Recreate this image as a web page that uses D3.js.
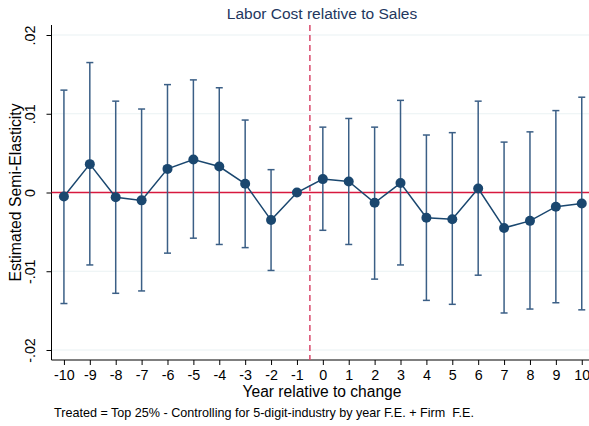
<!DOCTYPE html>
<html><head><meta charset="utf-8">
<script src="https://cdn.jsdelivr.net/npm/d3@7"></script>
<style>body{margin:0;background:#fff}svg{display:block;font-family:Arial,"Liberation Sans",sans-serif}</style>
</head><body><svg id="c" width="589" height="426"></svg>
<script>
const years = [-10,-9,-8,-7,-6,-5,-4,-3,-2,-1,0,1,2,3,4,5,6,7,8,9,10];
const estimate = [-0.0005,0.0036,-0.0006,-0.0010,0.0030,0.0042,0.0033,0.0011,-0.0035,0,0.0017,0.0014,-0.0013,0.0012,-0.0032,-0.0034,0.0005,-0.0045,-0.0036,-0.0018,-0.0014];
const ciUpper = [0.0130,0.0165,0.0116,0.0106,0.0137,0.0143,0.0133,0.0092,0.0029,null,0.0083,0.0094,0.0083,0.0117,0.0073,0.0076,0.0116,0.0064,0.0077,0.0104,0.0121];
const ciLower = [-0.0141,-0.0092,-0.0128,-0.0125,-0.0077,-0.0058,-0.0066,-0.0070,-0.0099,null,-0.0048,-0.0066,-0.0110,-0.0092,-0.0137,-0.0142,-0.0105,-0.0153,-0.0148,-0.0140,-0.0149];
const yTicks = [-0.02,-0.01,0,0.01,0.02];
const yTickLabels = ["-.02","-.01","0",".01",".02"];

const svg = d3.select("#c");
const L = 51.5, R = 589, T = 25, B = 360;
const x = d3.scaleLinear().domain([-10.48, 10.28]).range([L, R]);
const y = d3.scaleLinear().domain([-0.02127, 0.02127]).range([B, T]);

// grid
svg.append("g").selectAll("line").data(yTicks).join("line")
  .attr("x1", L).attr("x2", R).attr("y1", d=>y(d)).attr("y2", d=>y(d))
  .attr("stroke", "#eaf2f3").attr("stroke-width", 1.2);

// axes
const ya = svg.append("g").attr("transform", `translate(${L},0)`)
  .call(d3.axisLeft(y).tickValues(yTicks).tickFormat((d,i)=>yTickLabels[i]).tickSize(5).tickSizeOuter(0));
ya.select(".domain").attr("stroke","#000").attr("d", `M0,${T}V${B}`);
ya.selectAll(".tick line").attr("stroke","#000");
ya.selectAll(".tick text").attr("font-size", 14.3).attr("fill","#000")
  .attr("transform","rotate(-90)").attr("text-anchor","middle").attr("x",0).attr("y",-17).attr("dy","0");

const xa = svg.append("g").attr("transform", `translate(0,${B})`)
  .call(d3.axisBottom(x).tickValues(years).tickFormat(d => String(d)).tickSize(5).tickSizeOuter(0));
xa.select(".domain").attr("stroke","#000").attr("d", `M${L},0H${R}`);
xa.selectAll(".tick line").attr("stroke","#000");
xa.selectAll(".tick text").attr("font-size", 14.3).attr("fill","#000").attr("y", 10).attr("dy","0.71em");

// reference lines
svg.append("line").attr("x1", L).attr("x2", R).attr("y1", y(0)).attr("y2", y(0))
  .attr("stroke", "#d7193f").attr("stroke-width", 1.5);
svg.append("line").attr("x1", x(-0.5)).attr("x2", x(-0.5)).attr("y1", T).attr("y2", B)
  .attr("stroke", "#d9476b").attr("stroke-width", 1.5).attr("stroke-dasharray", "6,4");

// CIs
const ci = years.map((d,i)=>({x:d, lo:ciLower[i], hi:ciUpper[i]})).filter(d=>d.lo!==null);
const g = svg.append("g").attr("stroke", "#3b5f86").attr("stroke-width", 1.5);
g.selectAll(".v").data(ci).join("line").attr("x1",d=>x(d.x)).attr("x2",d=>x(d.x)).attr("y1",d=>y(d.lo)).attr("y2",d=>y(d.hi));
g.selectAll(".t").data(ci).join("line").attr("x1",d=>x(d.x)-3.5).attr("x2",d=>x(d.x)+3.5).attr("y1",d=>y(d.hi)).attr("y2",d=>y(d.hi));
g.selectAll(".b").data(ci).join("line").attr("x1",d=>x(d.x)-3.5).attr("x2",d=>x(d.x)+3.5).attr("y1",d=>y(d.lo)).attr("y2",d=>y(d.lo));

// line + markers
const pts = years.map((d,i)=>({x:d, v:estimate[i]}));
svg.append("path").datum(pts).attr("fill","none").attr("stroke","#1a476f").attr("stroke-width",1.5)
  .attr("d", d3.line().x(d=>x(d.x)).y(d=>y(d.v)));
svg.append("g").selectAll("circle").data(pts).join("circle")
  .attr("cx",d=>x(d.x)).attr("cy",d=>y(d.v)).attr("r",5).attr("fill","#1a476f");

// texts
svg.append("text").attr("x", 322).attr("y", 19).attr("text-anchor","middle")
  .attr("font-size", 15.5).attr("fill", "#23375e").text("Labor Cost relative to Sales");
svg.append("text").attr("transform", `translate(21,${(T+B)/2}) rotate(-90)`).attr("text-anchor","middle")
  .attr("font-size", 15.8).attr("fill","#000").text("Estimated Semi-Elasticity");
svg.append("text").attr("x", 322).attr("y", 397).attr("text-anchor","middle")
  .attr("font-size", 15.6).attr("fill","#000").text("Year relative to change");
svg.append("text").attr("x", 54).attr("y", 416.5).attr("font-size", 12.6).attr("fill","#000")
  .attr("xml:space","preserve").style("white-space","pre")
  .text("Treated = Top 25% - Controlling for 5-digit-industry by year F.E. + Firm  F.E.");
</script></body></html>
